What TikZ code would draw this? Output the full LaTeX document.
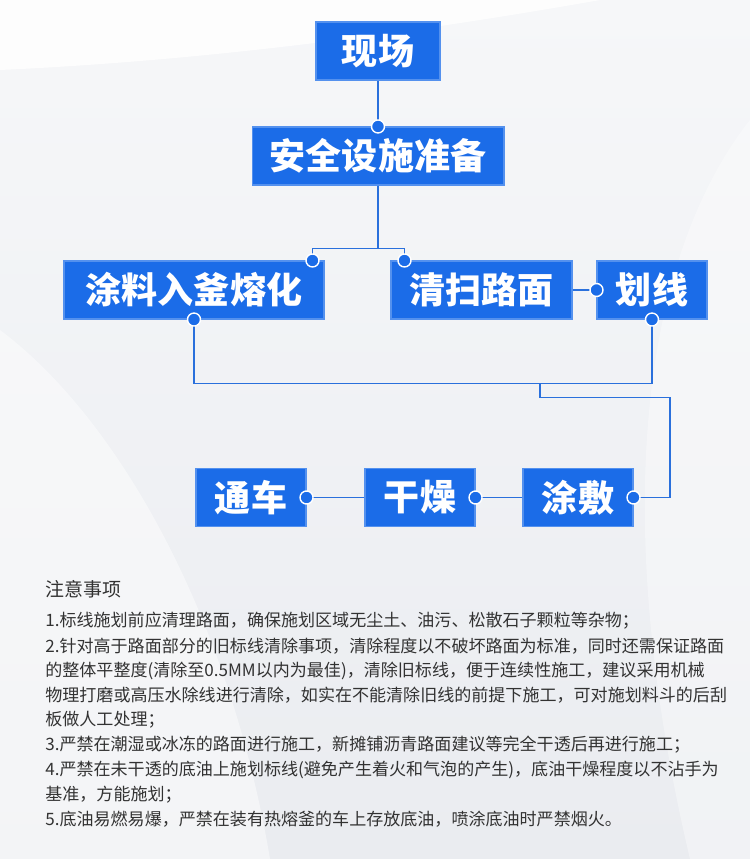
\documentclass[tikz,border=0pt]{standalone}
\usepackage{fontspec}
\newfontfamily\cjk{Noto Sans CJK SC}
\usetikzlibrary{calc}

\definecolor{boxblue}{RGB}{27,108,232}
\definecolor{linkblue}{RGB}{42,112,220}
\definecolor{notegray}{RGB}{50,50,50}
\definecolor{bgtop}{RGB}{246,247,249}
\definecolor{bgbottom}{RGB}{234,236,240}

\tikzset{
  stepbox/.style={fill=boxblue, draw=boxblue!75!white, line width=0.6pt, text=white,
    inner sep=0pt, minimum height=1.16cm,
    font=\cjk\bfseries\fontsize{20.5pt}{24pt}\selectfont},
  link/.style={linkblue, line width=1.1pt},
  dot/.style={fill=boxblue, draw=white, line width=0.8pt},
  note/.style={anchor=west, inner sep=0pt, text=notegray,
    font=\cjk\fontsize{9.7pt}{12pt}\selectfont}
}

\begin{document}
\begin{tikzpicture}[x=0.02cm, y=-0.02cm]

% background
\shade[top color=bgtop, bottom color=bgbottom] (0,0) rectangle (750,859);
\useasboundingbox (0,0) rectangle (750,859);
\fill[white, opacity=0.8] (0,0) -- (600,0) .. controls (430,30) and (220,60) .. (0,70) -- cycle;
\fill[white, opacity=0.45] (0,330) .. controls (120,420) and (230,620) .. (270,859) -- (0,859) -- cycle;
\fill[white, opacity=0.35] (750,120) .. controls (640,260) and (610,520) .. (690,859) -- (750,859) -- cycle;

% process boxes
\node[stepbox, minimum width=2.48cm] (xianchang) at (378,51) {现场};
\node[stepbox, minimum width=5.04cm] (anquan) at (378,156) {安全设施准备};
\node[stepbox, minimum width=5.2cm] (tuliao) at (194,290) {涂料入釜熔化};
\node[stepbox, minimum width=3.62cm] (qingsao) at (481.5,290) {清扫路面};
\node[stepbox, minimum width=2.2cm] (huaxian) at (652,290) {划线};
\node[stepbox, minimum width=2.2cm] (tongche) at (251,497.5) {通车};
\node[stepbox, minimum width=2.2cm] (ganzao) at (420,497.5) {干燥};
\node[stepbox, minimum width=2.2cm] (tufu) at (578,497.5) {涂敷};

% connectors
\coordinate (tuliaoIn) at ($(tuliao.north east)+(-12,0)$);
\coordinate (qingsaoIn) at ($(qingsao.north west)+(14,0)$);
\draw[link] (xianchang.south) -- (anquan.north);
\draw[link] (anquan.south) -- ++(0,63) coordinate (fork);
\draw[link] (fork) -| (tuliaoIn);
\draw[link] (fork) -| (qingsaoIn);
\draw[link] (qingsao.east) -- (huaxian.west);
\draw[link] (tuliao.south) -- ++(0,64) coordinate (merge) -| (huaxian.south);
\coordinate (drop) at ($(merge)+(346,0)$);
\draw[link] (drop) -- ++(0,14) -- ++(130,0) |- (tufu.east);
\draw[link] (tufu.west) -- (ganzao.east);
\draw[link] (ganzao.west) -- (tongche.east);

% joints
\foreach \p in {anquan.north, tuliaoIn, qingsaoIn, huaxian.west, tuliao.south,
  huaxian.south, tufu.east, ganzao.east, tongche.east}
  \draw[dot] (\p) circle[radius=3.7pt];

% notes
\node[note, font=\cjk\fontsize{10.8pt}{13pt}\selectfont] (title) at (45,589) {注意事项};
\node[note] (n1) at (45,621) {1.标线施划前应清理路面，确保施划区域无尘土、油污、松散石子颗粒等杂物；};
\node[note] (n2) at (45,645.75) {2.针对高于路面部分的旧标线清除事项，清除程度以不破坏路面为标准，同时还需保证路面};
\node[note] (n3) at (45,670.5) {的整体平整度(清除至0.5MM以内为最佳)，清除旧标线，便于连续性施工，建议采用机械};
\node[note] (n4) at (45,695.25) {物理打磨或高压水除线进行清除，如实在不能清除旧线的前提下施工，可对施划料斗的后刮};
\node[note] (n5) at (45,720) {板做人工处理；};
\node[note] (n6) at (45,744.75) {3.严禁在潮湿或冰冻的路面进行施工，新摊铺沥青路面建议等完全干透后再进行施工；};
\node[note] (n7) at (45,769.5) {4.严禁在未干透的底油上施划标线(避免产生着火和气泡的产生)，底油干燥程度以不沾手为};
\node[note] (n8) at (45,794.25) {基准，方能施划；};
\node[note] (n9) at (45,819) {5.底油易燃易爆，严禁在装有热熔釜的车上存放底油，喷涂底油时严禁烟火。};

\end{tikzpicture}
\end{document}
